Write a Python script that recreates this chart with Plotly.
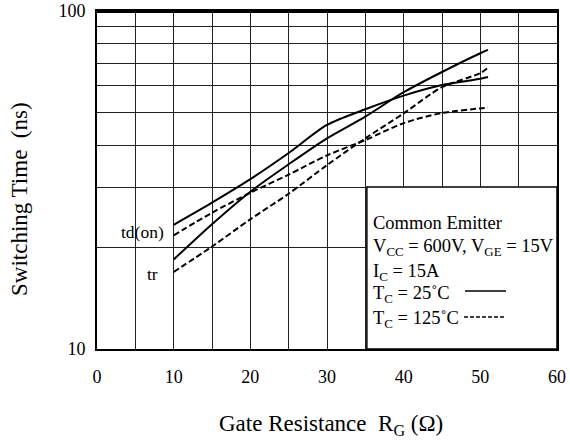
import plotly.graph_objects as go

# Data (Gate resistance in ohm, switching time in ns)
rg = [10, 15, 20, 25, 30, 35, 40, 45, 50, 51]
td_on_25 = [23.3, 27.1, 31.8, 38.0, 46.0, 51.2, 56.2, 60.4, 63.0, 63.8]
tr_25 = [18.4, 23.4, 29.2, 35.2, 42.0, 48.7, 57.5, 66.0, 75.0, 76.7]
td_on_125 = [21.7, 25.3, 29.0, 32.8, 37.4, 41.5, 46.6, 49.9, 51.5, 51.7]
tr_125 = [16.9, 20.1, 24.2, 28.8, 35.0, 42.0, 49.8, 59.5, 65.5, 68.0]

x_ticks = [0, 5, 10, 15, 20, 25, 30, 35, 40, 45, 50, 55, 60]
x_labels = ["0", "", "10", "", "20", "", "30", "", "40", "", "50", "", "60"]
y_ticks = [10, 20, 30, 40, 50, 60, 70, 80, 90, 100]
y_labels = ["10", "", "", "", "", "", "", "", "", "100"]

FONT = "Liberation Serif"

fig = go.Figure()
solid = dict(color="black", width=2, shape="spline", smoothing=0.8)
dashed = dict(color="black", width=2, dash="6px,3px", shape="spline", smoothing=0.8)
fig.add_trace(go.Scatter(x=rg, y=td_on_25, mode="lines", line=solid, name="td(on) 25C"))
fig.add_trace(go.Scatter(x=rg, y=tr_25, mode="lines", line=solid, name="tr 25C"))
fig.add_trace(go.Scatter(x=rg, y=td_on_125, mode="lines", line=dashed, name="td(on) 125C"))
fig.add_trace(go.Scatter(x=rg, y=tr_125, mode="lines", line=dashed, name="tr 125C"))

# plot-area pixel geometry
L, R, T, B = 97, 13, 11, 92
W, H = 570, 441
pw, ph = W - L - R, H - T - B

def px_x(p):
    return (p - L) / pw

def px_y(p):
    return (H - B - p) / ph

shapes = [
    # legend box (white, covers grid)
    dict(type="rect", xref="x", yref="paper", x0=35.2, x1=60, y0=0, y1=px_y(187),
         fillcolor="white", line=dict(color="black", width=1.5), layer="above"),
    # thick top border
    dict(type="line", xref="paper", yref="paper", x0=0, x1=1, y0=1, y1=1,
         line=dict(color="black", width=4), layer="above"),
    # legend sample lines
    dict(type="line", xref="paper", yref="paper", x0=px_x(465), x1=px_x(506),
         y0=px_y(291), y1=px_y(291), line=dict(color="black", width=1.5), layer="above"),
    dict(type="line", xref="paper", yref="paper", x0=px_x(464), x1=px_x(506),
         y0=px_y(317), y1=px_y(317), line=dict(color="black", width=1.5, dash="4px,2px"),
         layer="above"),
]

ann = []
def text(s, x, y, size=18.5, xanchor="left", angle=0):
    ann.append(dict(text=s, xref="paper", yref="paper", x=px_x(x), y=px_y(y),
                    xanchor=xanchor, yanchor="middle", showarrow=False, textangle=angle,
                    font=dict(family=FONT, size=size, color="black")))

text("Common Emitter", 371, 223)
text("V<sub>CC</sub> = 600V, V<sub>GE</sub> = 15V", 371, 247)
text("I<sub>C</sub> = 15A", 371, 272)
text("T<sub>C</sub> = 25\u02daC", 371, 294)
text("T<sub>C</sub> = 125\u02daC", 371, 319)
text("td(on)", 166, 232, size=17.5, xanchor="right")
text("tr", 160, 274, size=17.5, xanchor="right")
text("Gate Resistance  R<sub>G</sub> (\u03a9)", 331, 425, size=23, xanchor="center")
text("Switching Time  (ns)", 20, 199, size=23, xanchor="center", angle=-90)

fig.update_layout(
    width=W, height=H,
    margin=dict(l=L, r=R, t=T, b=B, autoexpand=False),
    paper_bgcolor="white", plot_bgcolor="white",
    showlegend=False,
    font=dict(family=FONT, size=18, color="black"),
    shapes=shapes, annotations=ann,
)
fig.update_xaxes(range=[0, 60], tickvals=x_ticks, ticktext=x_labels,
                 showgrid=True, gridcolor="#222", gridwidth=1,
                 showline=True, linecolor="black", linewidth=2, mirror=True,
                 zeroline=False, ticks="", ticklabelstandoff=10, automargin=False,
                 tickfont=dict(family=FONT, size=18))
fig.update_yaxes(type="log", range=[1, 2], tickvals=y_ticks, ticktext=y_labels,
                 showgrid=True, gridcolor="#222", gridwidth=1,
                 showline=True, linecolor="black", linewidth=2, mirror=True,
                 zeroline=False, ticks="", ticklabelstandoff=6, automargin=False,
                 tickfont=dict(family=FONT, size=18))

fig.write_html("out.html")
